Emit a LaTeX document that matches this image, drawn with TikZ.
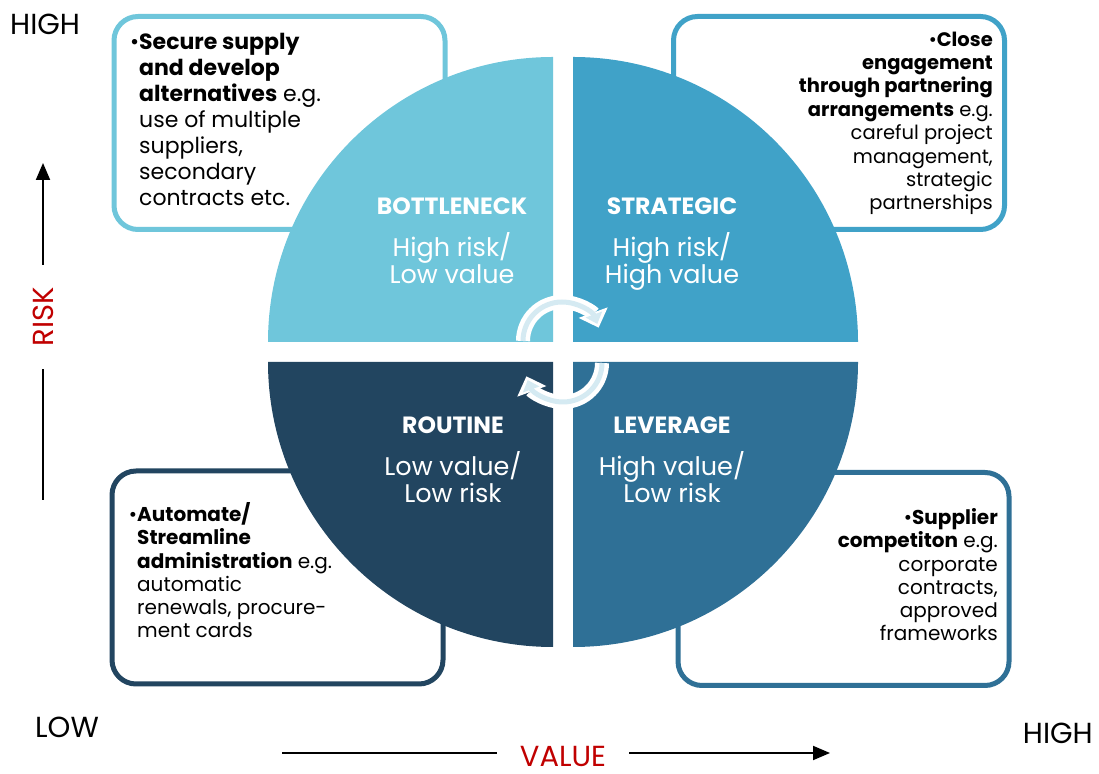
\documentclass[tikz,border=0pt]{standalone}
\usepackage{fontspec}
\setmainfont{Poppins}
\usetikzlibrary{arrows.meta,positioning}

\definecolor{bneckblue}{HTML}{6FC6DB}
\definecolor{stratblue}{HTML}{40A2C8}
\definecolor{routblue}{HTML}{224560}
\definecolor{levblue}{HTML}{2F7096}
\definecolor{swirl}{HTML}{D5EAF2}
\definecolor{axisred}{HTML}{C00000}

\begin{document}
\begin{tikzpicture}[x=1pt,y=1pt,
  note/.style={draw,line width=5pt,rounded corners=24pt,fill=white,inner sep=0pt,
    minimum width=331pt,minimum height=213pt},
  notetext/.style={inner sep=0pt,text=black,font=\fontsize{20}{23.3}\selectfont},
  quadtitle/.style={inner sep=0pt,text=white,font=\fontsize{23.5}{26}\selectfont\bfseries},
  quadtext/.style={inner sep=0pt,text=white,align=center,font=\fontsize{25.5}{27.5}\selectfont},
  axislabel/.style={inner sep=0pt,font=\fontsize{29}{32}\selectfont},
  axisline/.style={line width=2pt},
  to/.style={axisline,-{Triangle[length=17pt,width=14pt]}},
  swirlw/.style={white,line width=14pt,-{Triangle[length=16pt,width=30pt]}},
  swirlb/.style={swirl,line width=5pt,shorten >=4pt,-{Triangle[length=10pt,width=17pt]}}]

    \useasboundingbox (0,0) rectangle (1099,773);

    % the four note boxes sit behind the disc
    \node[note,draw=bneckblue] (bneckbox) at (279.5,650) {};
    \node[note,draw=stratblue] (stratbox) at (839,650) {};
    \node[note,draw=routblue] (routbox) at (277.5,195.5) {};
    \node[note,draw=levblue] (levbox) at (843.5,194) {};

    % base of a multi-line node is its last line
    \node[notetext,anchor=base west,align=left,font=\fontsize{22}{26}\selectfont] (bnecktext) at (139,567)
        {\llap{\textbullet}\textbf{Secure supply}\\
         \textbf{and develop}\\
         \textbf{alternatives} e.g.\\
         use of multiple\\
         suppliers,\\
         secondary\\
         contracts etc.};
    \node[notetext,anchor=base east,align=right,font=\fontsize{19.5}{23.4}\selectfont] (strattext) at (993,563)
        {\textbullet\textbf{Close}\\
         \textbf{engagement}\\
         \textbf{through partnering}\\
         \textbf{arrangements} e.g.\\
         careful project\\
         management,\\
         strategic\\
         partnerships};
    \node[notetext,anchor=base west,align=left] (routtext) at (137,135)
        {\llap{\textbullet}\textbf{Automate/}\\
         \textbf{Streamline}\\
         \textbf{administration} e.g.\\
         automatic\\
         renewals, procure-\\
         ment cards};
    \node[notetext,anchor=base east,align=right] (levtext) at (998,132)
        {\textbullet\textbf{Supplier}\\
         \textbf{competiton} e.g.\\
         corporate\\
         contracts,\\
         approved\\
         frameworks};

    % white halo, then the quarters
    \fill[white] (563,421) circle[radius=289];
    \fill[bneckblue] (553,431) -- ++(-285,0) arc[start angle=180,end angle=90,radius=285] -- cycle;
    \fill[stratblue] (573,431) -- ++(0,285) arc[start angle=90,end angle=0,radius=285] -- cycle;
    \fill[routblue] (553,411) -- ++(0,-285) arc[start angle=270,end angle=180,radius=285] -- cycle;
    \fill[levblue] (573,411) -- ++(285,0) arc[start angle=0,end angle=-90,radius=285] -- cycle;

    \node[quadtitle,anchor=base] (bnecktitle) at (452,558) {BOTTLENECK};
    \node[quadtitle,anchor=base] (strattitle) at (672,558) {STRATEGIC};
    \node[quadtitle,anchor=base] (routtitle) at (453,339) {ROUTINE};
    \node[quadtitle,anchor=base] (levtitle) at (672,339) {LEVERAGE};

    \node[quadtext,anchor=base] (bnecksub) at ([yshift=-69pt]bnecktitle.base) {High risk/\\Low value};
    \node[quadtext,anchor=base] (stratsub) at ([yshift=-69pt]strattitle.base) {High risk/\\High value};
    \node[quadtext,anchor=base] (routsub) at ([yshift=-69pt]routtitle.base) {Low value/\\Low risk};
    \node[quadtext,anchor=base] (levsub) at ([yshift=-69pt]levtitle.base) {High value/\\Low risk};

    % cycle arrows in the middle
    \draw[swirlw] (562,432) ++(180:39) arc[start angle=180,end angle=20,radius=39];
    \draw[swirlb] (562,432) ++(180:39) arc[start angle=180,end angle=20,radius=39];
    \draw[swirlw] (563,410) ++(0:39) arc[start angle=0,end angle=-160,radius=39];
    \draw[swirlb] (563,410) ++(0:39) arc[start angle=0,end angle=-160,radius=39];

    % axes
    \node[axislabel,anchor=base west] (riskhigh) at (10,738) {HIGH};
    \node[axislabel,anchor=base west] (valuelow) at (35,35) {LOW};
    \node[axislabel,anchor=base east] (valuehigh) at (1093,30) {HIGH};
    \node[axislabel,text=axisred,rotate=90,minimum width=104pt] (risk) at (43,456) {RISK};
    \node[axislabel,text=axisred,minimum width=132pt] (value) at (563,17) {VALUE};

    \coordinate (rbot) at (43,273);
    \coordinate (rtop) at (43,610);
    \coordinate (vleft) at (282,20);
    \coordinate (vright) at (830,20);

    \draw[axisline] (rbot) -- (risk.west);
    \draw[to] (risk.east) -- (rtop);
    \draw[axisline] (vleft) -- (value.west |- vleft);
    \draw[to] (value.east |- vright) -- (vright);
\end{tikzpicture}
\end{document}
